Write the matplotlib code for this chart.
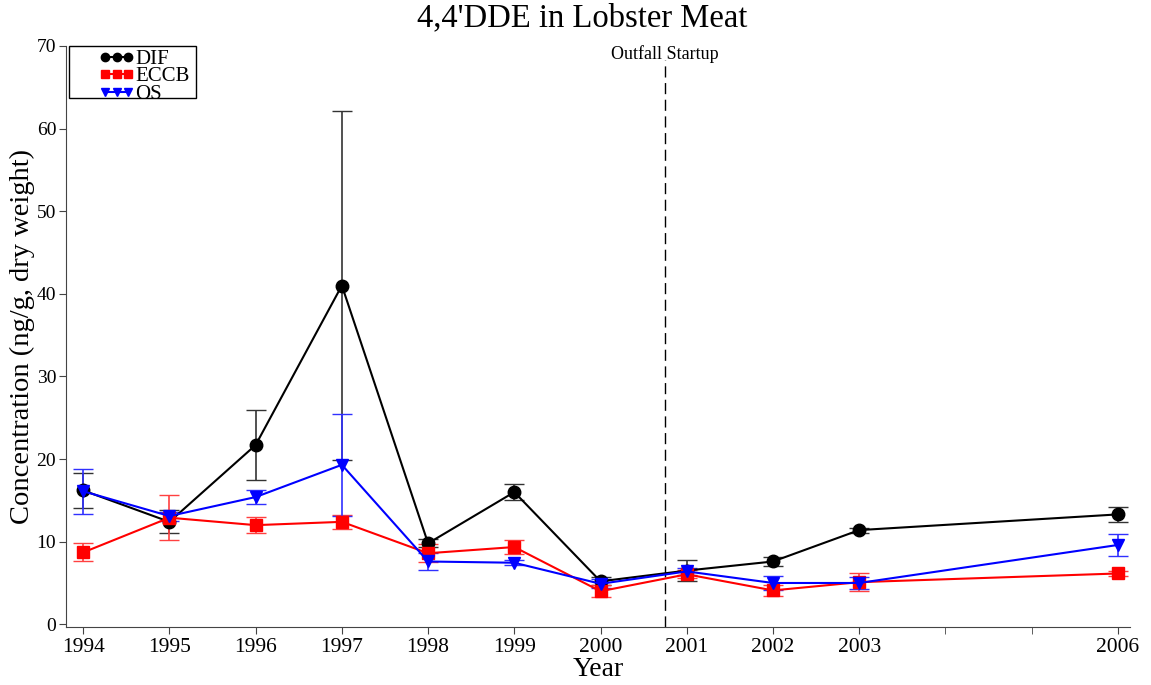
import matplotlib.pyplot as plt
from matplotlib.lines import Line2D
from matplotlib.patches import Rectangle

plt.rcParams['font.family'] = ['Liberation Serif', 'DejaVu Serif']

# Sampling years (x axis is linear, 2004/2005 not sampled)
years = [1994, 1995, 1996, 1997, 1998, 1999, 2000, 2001, 2002, 2003, 2006]
tick_years = [1994, 1995, 1996, 1997, 1998, 1999, 2000, 2001, 2002, 2003, 2006]
minor_years = [2004, 2005]

# Mean concentration and standard error per station
dif_mean = [16.2, 12.4, 21.7, 41.0, 9.8, 16.0, 5.2, 6.5, 7.6, 11.4, 13.3]
dif_err = [2.1, 1.4, 4.2, 21.1, 0.5, 1.0, 0.5, 1.3, 0.5, 0.3, 0.95]

eccb_mean = [8.7, 12.9, 12.0, 12.4, 8.6, 9.35, 4.0, 6.05, 4.1, 5.1, 6.15]
eccb_err = [1.1, 2.7, 1.0, 0.85, 1.1, 0.8, 0.7, 0.5, 0.7, 1.1, 0.3]

os_mean = [16.1, 13.1, 15.4, 19.3, 7.6, 7.45, 4.9, 6.4, 5.0, 5.0, 9.6]
os_err = [2.7, 0.55, 0.85, 6.2, 1.0, 0.3, 0.55, 0.4, 0.9, 0.75, 1.3]

outfall_start = 2000.75

fig = plt.figure(figsize=(11.51, 6.85), dpi=100)
ax = fig.add_axes([0.0573, 0.085, 0.9244, 0.848])

ax.errorbar(years, dif_mean, yerr=dif_err, color='black', ecolor='#333333',
            marker='o', markersize=9, linewidth=1.5, elinewidth=1.2,
            capsize=7, zorder=3)
ax.errorbar(years, eccb_mean, yerr=eccb_err, color='red', ecolor='#ff4040',
            marker='s', markersize=8, linewidth=1.5, elinewidth=1.2,
            capsize=7, zorder=3)
ax.errorbar(years, os_mean, yerr=os_err, color='blue', ecolor='#3030ff',
            marker='v', markersize=9, linewidth=1.5, elinewidth=1.2,
            capsize=7, zorder=3)

# outfall line stops just under its label
ax.plot([outfall_start, outfall_start], [-0.3, 68.3], color='black',
        linestyle=(0, (8, 4)), linewidth=1)
ax.text(outfall_start, 70.1, 'Outfall Startup', ha='center', va='top',
        fontsize=13)

ax.set_xlim(1993.80, 2006.14)
ax.set_ylim(-0.3, 70)
ax.set_xticks(tick_years)
ax.set_xticks(minor_years, minor=True)
ax.set_yticks(range(0, 71, 10))
ax.tick_params(axis='both', direction='out', length=5, color='#444444')
ax.tick_params(axis='x', labelsize=15.5, pad=3)
ax.tick_params(axis='y', labelsize=14, pad=2)
ax.tick_params(axis='x', which='minor', length=5, color='#444444')

for side in ['top', 'right']:
    ax.spines[side].set_visible(False)
for side in ['left', 'bottom']:
    ax.spines[side].set_color('#444444')

fig.text(0.5057, 0.973, "4,4'DDE in Lobster Meat", fontsize=23.5,
         ha='center', va='center')
ax.set_xlabel('Year', fontsize=20, labelpad=0)
ax.set_ylabel('Concentration (ng/g, dry weight)', fontsize=20.5, labelpad=1)

# legend: small markers, no error bars, drawn in a plain box
handles = [
    Line2D([], [], color='black', marker='o', markersize=6, linewidth=1.5),
    Line2D([], [], color='red', marker='s', markersize=6, linewidth=1.5),
    Line2D([], [], color='blue', marker='v', markersize=6, linewidth=1.5),
]
ax.legend(handles, ['DIF', 'ECCB', 'OS'], loc='upper left',
          bbox_to_anchor=(0.031, 0.994), numpoints=3, fontsize=15,
          frameon=False, labelspacing=-0.1, handlelength=1.7,
          handletextpad=0.05, borderpad=0.0, borderaxespad=0.0)
ax.add_patch(Rectangle((0.003, 0.911), 0.119, 0.089, transform=ax.transAxes,
                       fill=False, edgecolor='black', linewidth=1,
                       clip_on=False, zorder=4))

plt.savefig('out.png', dpi=100)
